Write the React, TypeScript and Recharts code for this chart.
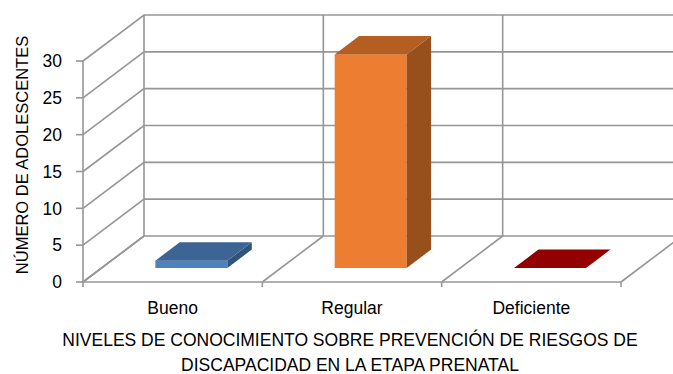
import React from 'react';
import { BarChart, Bar, XAxis, YAxis, CartesianGrid, Cell } from 'recharts';

// ---- data ----
const categories = ['Bueno', 'Regular', 'Deficiente'];
const adolescentes = [1, 29, 0];
const yTicks = [0, 5, 10, 15, 20, 25, 30];
const yTitle = 'NÚMERO DE ADOLESCENTES';
const xTitleLines = [
  'NIVELES DE CONOCIMIENTO SOBRE PREVENCIÓN DE RIESGOS DE',
  'DISCAPACIDAD EN LA ETAPA PRENATAL',
];

const data = categories.map((c, i) => ({ nivel: c, value: adolescentes[i] }));

// ---- styles ----
const FONT = "'Liberation Sans', Arial, sans-serif";
const GRID = '#969696';
const DEPTH_X = 61;
const DEPTH_Y = 46;
const BAR_FRONT = 0.304; // depth fraction of bar front face
const BAR_DEPTH = 0.4; // depth fraction of bar thickness

const barColors = [
  { front: '#4F81BD', top: '#3C6494', side: '#2F5379' },
  { front: '#ED7D31', top: '#B55E22', side: '#97501C' },
  { front: '#C00000', top: '#920000', side: '#7A0000' },
];

const HLine = (p: any) => {
  const { x1, y1, x2 } = p;
  const d = `M${x1},${y1} L${x1 + DEPTH_X},${y1 - DEPTH_Y} L${x2 + DEPTH_X},${y1 - DEPTH_Y}`;
  return <path key={p.key ?? `h-${y1}`} d={d} stroke={GRID} strokeWidth={1.6} fill="none" />;
};

// vertical structure at a category boundary: floor diagonal, back-wall vertical, small axis tick
const VLine = (p: any) => {
  const x = p.x1;
  const yTop = Math.min(p.y1, p.y2);
  const yBot = Math.max(p.y1, p.y2);
  const d =
    `M${x},${yBot} L${x + DEPTH_X},${yBot - DEPTH_Y} ` +
    `M${x + DEPTH_X},${yBot - DEPTH_Y} L${x + DEPTH_X},${yTop - DEPTH_Y} ` +
    `M${x},${yBot} L${x},${yBot + 5}`;
  return <path key={p.key ?? `v-${x}`} d={d} stroke={GRID} strokeWidth={1.6} fill="none" />;
};

// category band boundaries, taken from the category axis' band scale
const verticalGen = (args: any) => {
  const { xAxis, offset } = args || {};
  const scale = xAxis && xAxis.scale;
  const n = categories.length;
  try {
    if (scale && typeof scale.bandwidth === 'function') {
      const bw = scale.bandwidth();
      const starts = categories.map((c) => scale(c));
      const pts = [...starts, starts[n - 1] + bw];
      const ok =
        pts.every((v) => typeof v === 'number' && isFinite(v)) &&
        pts.every((v, i) => i === 0 || v > pts[i - 1]);
      if (ok) return pts;
    }
  } catch (e) {
    // fall through
  }
  return Array.from({ length: n + 1 }, (_, i) => offset.left + (offset.width * i) / n);
};

const Bar3D = (p: any) => {
  const { x, y, width, height, index } = p;
  const c = barColors[index] || barColors[0];
  const ox = BAR_FRONT * DEPTH_X;
  const oy = -BAR_FRONT * DEPTH_Y;
  const dx = BAR_DEPTH * DEPTH_X;
  const dy = BAR_DEPTH * DEPTH_Y;
  const fx = x + ox;
  const fy = y + oy;
  const h = Math.max(0, height);
  const top = `${fx},${fy} ${fx + dx},${fy - dy} ${fx + width + dx},${fy - dy} ${fx + width},${fy}`;
  const side = `${fx + width},${fy} ${fx + width + dx},${fy - dy} ${fx + width + dx},${fy + h - dy} ${fx + width},${fy + h}`;
  return (
    <g>
      {h > 0 && <rect x={fx} y={fy} width={width} height={h} fill={c.front} />}
      {h > 0 && <polygon points={side} fill={c.side} />}
      <polygon points={top} fill={c.top} />
    </g>
  );
};

const XTitle = (p: any) => {
  const vb = p.viewBox || {};
  const cx = vb.x + vb.width / 2 - 2;
  return (
    <g>
      {xTitleLines.map((t, i) => (
        <text
          key={i}
          x={cx}
          y={vb.y + 64 + i * 25}
          textAnchor="middle"
          fontFamily={FONT}
          fontSize={17.5}
          fill="#000"
        >
          {t}
        </text>
      ))}
    </g>
  );
};

const YTitle = () => (
  <text
    x={28}
    y={155}
    transform="rotate(-90, 28, 155)"
    textAnchor="middle"
    fontFamily={FONT}
    fontSize={16.5}
    fill="#000"
  >
    {yTitle}
  </text>
);

export default function App() {
  return (
    <div style={{ position: 'absolute', left: 0, top: 0, background: '#fff' }}>
      <BarChart
        width={673}
        height={374}
        data={data}
        margin={{ top: 61, right: 52, left: 0, bottom: 0 }}
        barCategoryGap="30%"
      >
        <CartesianGrid
          horizontal={HLine}
          vertical={VLine}
          verticalCoordinatesGenerator={verticalGen}
        />
        <XAxis
          dataKey="nivel"
          height={92}
          tickLine={false}
          tickSize={0}
          tickMargin={20}
          axisLine={{ stroke: GRID, strokeWidth: 1.6 }}
          tick={{ fill: '#000', fontFamily: FONT, fontSize: 17.5 }}
          interval={0}
          label={{ content: <XTitle /> } as any}
        />
        <YAxis
          width={83}
          domain={[0, 30]}
          ticks={yTicks}
          interval={0}
          tickSize={7}
          tickMargin={14}
          axisLine={{ stroke: GRID, strokeWidth: 1.6 }}
          tickLine={{ stroke: GRID, strokeWidth: 1.6 }}
          tick={{ fill: '#000', fontFamily: FONT, fontSize: 17.5 }}
          label={{ content: <YTitle /> } as any}
        />
        <Bar dataKey="value" shape={<Bar3D />} isAnimationActive={false}>
          {data.map((_, i) => (
            <Cell key={i} fill={barColors[i].front} />
          ))}
        </Bar>
      </BarChart>
    </div>
  );
}
